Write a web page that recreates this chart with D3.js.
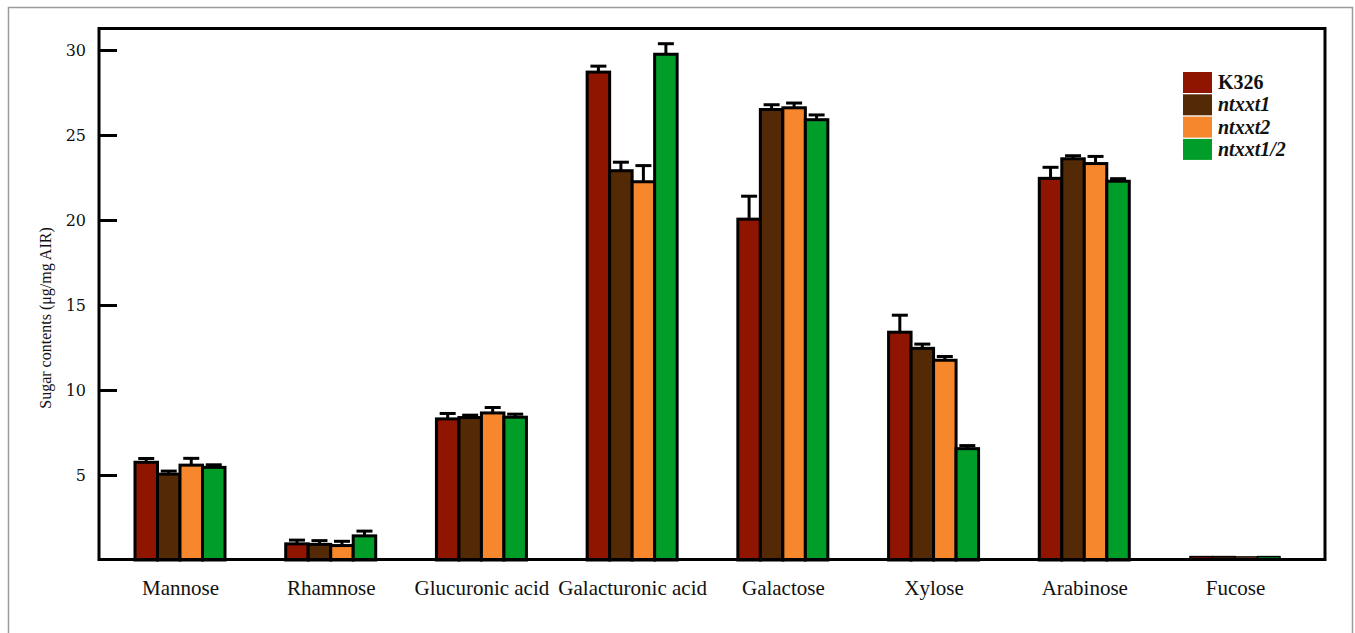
<!DOCTYPE html>
<html>
<head>
<meta charset="utf-8">
<style>
  body { margin: 0; background: #fff; }
  text { font-family: "Liberation Serif", "Times New Roman", serif; fill: #111; }
  .ytick text { font-family: "DejaVu Serif", serif; }
</style>
</head>
<body>
<svg id="chart" width="1355" height="633"></svg>
<script src="https://d3js.org/d3.v7.min.js"></script>
<script>
// data
const sugars = ['Mannose', 'Rhamnose', 'Glucuronic acid', 'Galacturonic acid',
                'Galactose', 'Xylose', 'Arabinose', 'Fucose'];
const lines = ['K326', 'ntxxt1', 'ntxxt2', 'ntxxt1/2'];
const colors = ['#8f1500', '#542906', '#f7872d', '#009e28'];

const k326     = [5.75, 0.95, 8.3, 28.7, 20.05, 13.4, 22.45, 0.2];
const ntxxt1   = [5.05, 0.92, 8.38, 22.9, 26.5, 12.45, 23.6, 0.2];
const ntxxt2   = [5.58, 0.85, 8.65, 22.25, 26.6, 11.75, 23.32, 0.18];
const ntxxt12  = [5.45, 1.42, 8.4, 29.75, 25.9, 6.55, 22.28, 0.2];

const k326Err    = [0.22, 0.22, 0.32, 0.35, 1.35, 1.0, 0.65, 0];
const ntxxt1Err  = [0.18, 0.22, 0.14, 0.5, 0.28, 0.25, 0.18, 0];
const ntxxt2Err  = [0.4, 0.25, 0.32, 0.95, 0.28, 0.22, 0.42, 0];
const ntxxt12Err = [0.15, 0.28, 0.18, 0.62, 0.28, 0.18, 0.15, 0];

const yTicks = [5, 10, 15, 20, 25, 30];

const values = [k326, ntxxt1, ntxxt2, ntxxt12];
const errors = [k326Err, ntxxt1Err, ntxxt2Err, ntxxt12Err];
const rows = [];
sugars.forEach((s, i) => {
  lines.forEach((l, j) => {
    rows.push({sugar: s, line: l, value: values[j][i], err: errors[j][i], color: colors[j]});
  });
});

const svg = d3.select('#chart');

// outer grey frame of the figure
svg.append('rect')
   .attr('x', 8.5).attr('y', 7.5)
   .attr('width', 1344).attr('height', 700)
   .attr('fill', 'none')
   .attr('stroke', '#9a9a9a')
   .attr('stroke-width', 1.5);

const plot = {left: 99, right: 1325, top: 28.5, bottom: 559.5};

const y = d3.scaleLinear().domain([0, 31.25]).range([560, 28.75]);
const x = d3.scalePoint().domain(sugars).range([180, 1235]);
const xs = d3.scaleBand().domain(lines).range([-45, 45]);

// bars
const g = svg.append('g');
g.selectAll('rect.bar')
 .data(rows)
 .join('rect')
 .attr('class', 'bar')
 .attr('x', d => x(d.sugar) + xs(d.line))
 .attr('y', d => y(d.value))
 .attr('width', xs.bandwidth())
 .attr('height', d => y(0) - y(d.value))
 .attr('fill', d => d.color)
 .attr('stroke', '#000')
 .attr('stroke-width', d => d.value < 0.5 ? 1.5 : 3);

// error bars
const eb = g.selectAll('g.err')
 .data(rows.filter(d => d.err > 0))
 .join('g')
 .attr('class', 'err')
 .attr('transform', d => `translate(${x(d.sugar) + xs(d.line) + xs.bandwidth() / 2},0)`);
eb.append('line')
  .attr('x1', 0).attr('x2', 0)
  .attr('y1', d => y(d.value))
  .attr('y2', d => y(d.value + d.err))
  .attr('stroke', '#000').attr('stroke-width', 3);
eb.append('line')
  .attr('x1', -8).attr('x2', 8)
  .attr('y1', d => y(d.value + d.err))
  .attr('y2', d => y(d.value + d.err))
  .attr('stroke', '#000').attr('stroke-width', 3);

// plot frame
svg.append('rect')
   .attr('x', plot.left).attr('y', plot.top)
   .attr('width', plot.right - plot.left)
   .attr('height', plot.bottom - plot.top)
   .attr('fill', 'none')
   .attr('stroke', '#000')
   .attr('stroke-width', 3);

// y axis, ticks pointing inward
const yAxis = d3.axisLeft(y).tickValues(yTicks).tickSize(0).tickPadding(0);
const ya = svg.append('g')
   .attr('class', 'ytick')
   .attr('transform', `translate(${plot.left},0)`)
   .call(yAxis);
ya.select('.domain').remove();
ya.selectAll('.tick line')
  .attr('x1', 0).attr('x2', 18)
  .attr('stroke', '#000').attr('stroke-width', 3);
ya.selectAll('.tick text')
  .attr('x', -13)
  .attr('font-size', 16)
  .attr('fill', '#111');

// x labels
const xAxis = d3.axisBottom(x).tickSize(0).tickPadding(0);
const xa = svg.append('g')
   .attr('transform', `translate(0,${plot.bottom})`)
   .call(xAxis);
xa.select('.domain').remove();
xa.selectAll('.tick text')
  .attr('y', 35.5)
  .attr('dy', 0)
  .attr('font-size', 21)
  .attr('fill', '#111');

// y title
svg.append('text')
   .attr('transform', 'translate(51,318) rotate(-90)')
   .attr('text-anchor', 'middle')
   .attr('font-size', 16)
   .text('Sugar contents (μg/mg AIR)');

// legend
const lg = svg.append('g').attr('transform', 'translate(1183,72)');
const li = lg.selectAll('g')
  .data(lines)
  .join('g')
  .attr('transform', (d, i) => `translate(0,${i * 22.3})`);
li.append('rect')
  .attr('width', 29).attr('height', 21)
  .attr('fill', (d, i) => colors[i]);
li.append('text')
  .attr('x', 35).attr('y', 17)
  .attr('font-size', 20)
  .attr('font-weight', 'bold')
  .attr('font-style', (d, i) => i === 0 ? 'normal' : 'italic')
  .text(d => d);
</script>
</body>
</html>
